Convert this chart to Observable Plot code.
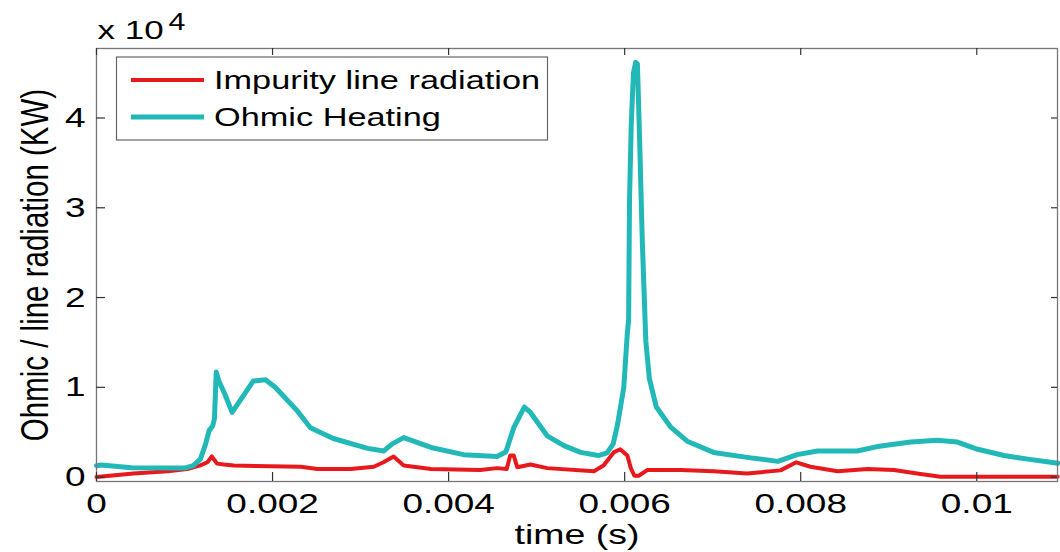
<!DOCTYPE html>
<html>
<head>
<meta charset="utf-8">
<script src="https://cdn.jsdelivr.net/npm/d3@7"></script>
<script src="https://cdn.jsdelivr.net/npm/@observablehq/plot@0.6"></script>
<style>
  body { margin: 0; background: #fff; }
  #chart { position: relative; width: 1060px; height: 552px; }
</style>
</head>
<body>
<div id="chart"></div>
<script>
// ---- Data (values in units of 10^4 KW, time in seconds) ----
const timeOhmic = [0, 0.00005, 0.0004, 0.001, 0.0011, 0.00118, 0.00124, 0.00128, 0.00132, 0.00134, 0.00136, 0.00139, 0.00146, 0.00154,
  0.00178, 0.00192, 0.00203, 0.00228, 0.00243, 0.00269, 0.00308, 0.00326, 0.00336, 0.00349, 0.0038, 0.00417, 0.00455, 0.00465,
  0.00474, 0.00486, 0.00493, 0.00512, 0.00531, 0.0055, 0.0057, 0.0058, 0.00587, 0.00592, 0.00599, 0.00603, 0.006045, 0.006055,
  0.006075, 0.0061, 0.006125, 0.006145, 0.00617, 0.0062, 0.00624, 0.00628, 0.00636, 0.00652, 0.00671, 0.00701, 0.00739, 0.00774,
  0.00796, 0.00819, 0.00864, 0.00887, 0.00925, 0.00955, 0.00978, 0.01001, 0.01031, 0.01058, 0.01088, 0.01092];
const ohmicHeating = [0.127, 0.135, 0.105, 0.10, 0.127, 0.2, 0.37, 0.52, 0.57, 0.65, 1.17, 1.07, 0.92, 0.72,
  1.07, 1.085, 1.0, 0.74, 0.55, 0.43, 0.32, 0.29, 0.37, 0.44, 0.33, 0.25, 0.23, 0.28,
  0.55, 0.78, 0.72, 0.46, 0.35, 0.275, 0.24, 0.27, 0.37, 0.59, 1.0, 1.6, 1.75, 3.08,
  3.94, 4.5, 4.62, 4.6, 3.75, 2.64, 1.52, 1.1, 0.78, 0.56, 0.40, 0.275, 0.22, 0.175,
  0.25, 0.29, 0.29, 0.34, 0.39, 0.41, 0.39, 0.31, 0.24, 0.2, 0.16, 0.155];

const timeImpurity = [0, 0.00042, 0.00081, 0.00103, 0.00118, 0.00126, 0.00131, 0.00137, 0.00145, 0.00156, 0.0018, 0.00232, 0.00251,
  0.00289, 0.00315, 0.00326, 0.003375, 0.00349, 0.0038, 0.00436, 0.00455, 0.00466, 0.0047, 0.00474, 0.00478, 0.00493, 0.00512,
  0.00565, 0.00576, 0.005875, 0.00595, 0.00603, 0.00607, 0.00611, 0.00616, 0.00626, 0.00664, 0.00701, 0.00739, 0.00777, 0.00795,
  0.00811, 0.00842, 0.00876, 0.00906, 0.00936, 0.00959, 0.01092];
const impurityRadiation = [0.0, 0.04, 0.065, 0.09, 0.13, 0.165, 0.23, 0.15, 0.14, 0.13, 0.125, 0.115, 0.09,
  0.09, 0.115, 0.165, 0.23, 0.13, 0.09, 0.08, 0.1, 0.09, 0.24, 0.24, 0.11, 0.14, 0.1,
  0.065, 0.13, 0.275, 0.31, 0.24, 0.1, 0.015, 0.015, 0.08, 0.08, 0.065, 0.04, 0.075, 0.165,
  0.115, 0.065, 0.09, 0.08, 0.035, 0.005, 0.005];

const seriesNames = ["Impurity line radiation", "Ohmic Heating"];
const seriesColors = ["#e8191c", "#22b8b8"];
const xTicks = [0, 0.002, 0.004, 0.006, 0.008, 0.01];
const xTickLabels = ["0", "0.002", "0.004", "0.006", "0.008", "0.01"];
const yTicks = [0, 1, 2, 3, 4];
const yTickLabels = ["0", "1", "2", "3", "4"];
const yLabel = "Ohmic / line radiation (KW)";
const xLabel = "time (s)";
const exponentBase = "x 10";
const exponentPower = "4";

// ---- Build rows ----
const ohmicRows = timeOhmic.map((t, i) => ({t, v: ohmicHeating[i]}));
const impurityRows = timeImpurity.map((t, i) => ({t, v: impurityRadiation[i]}));

const FONT = "'Liberation Sans', Arial, Helvetica, sans-serif";

const plot = Plot.plot({
  width: 1060,
  height: 552,
  marginLeft: 96,
  marginRight: 3,
  marginTop: 48,
  marginBottom: 71,
  style: {fontFamily: FONT, fontSize: "28px", background: "white", color: "#000", overflow: "visible"},
  x: {domain: [0, 0.010917], label: null},
  y: {domain: [-0.049, 4.774], label: null},
  marks: [
    Plot.line(impurityRows, {x: "t", y: "v", stroke: seriesColors[0], strokeWidth: 4, strokeLinejoin: "round"}),
    Plot.line(ohmicRows, {x: "t", y: "v", stroke: seriesColors[1], strokeWidth: 5, strokeLinejoin: "round"}),
    Plot.frame({stroke: "#777", strokeWidth: 1.3}),
    // inward ticks on all four sides
    Plot.tickX(xTicks, {x: d => d, insetTop: 424, stroke: "#333", strokeWidth: 1.2}),
    Plot.tickX(xTicks, {x: d => d, insetBottom: 426, stroke: "#333", strokeWidth: 1.2}),
    Plot.tickY(yTicks, {y: d => d, insetRight: 952, stroke: "#333", strokeWidth: 1.2}),
    Plot.tickY(yTicks, {y: d => d, insetLeft: 955, stroke: "#333", strokeWidth: 1.2}),
    Plot.axisX(xTicks, {tickSize: 0, tickPadding: 12, fontSize: 28, label: null,
      tickFormat: d => xTickLabels[xTicks.indexOf(d)]}),
    Plot.axisY(yTicks, {tickSize: 0, tickPadding: 11, fontSize: 28, label: null,
      tickFormat: d => yTickLabels[yTicks.indexOf(d)]}),
    Plot.text([yLabel], {frameAnchor: "left", dx: -60.5, rotate: -90, fontSize: 29.5, lineAnchor: "middle", textAnchor: "middle"}),
    Plot.text([xLabel], {frameAnchor: "bottom", dy: 62, fontSize: 28.4, lineAnchor: "bottom", textAnchor: "middle"}),
    Plot.text([exponentBase], {frameAnchor: "top-left", dx: 1, dy: -10, fontSize: 26.5, lineAnchor: "bottom", textAnchor: "start"}),
    Plot.text([exponentPower], {frameAnchor: "top-left", dx: 72, dy: -19, fontSize: 23, lineAnchor: "bottom", textAnchor: "start"})
  ]
});

// ---- Legend (inside the axes box, upper left) ----
const svg = d3.select(plot);
const lg = svg.append("g").attr("class", "legend").attr("text-anchor", "start");
lg.append("rect").attr("x", 116.5).attr("y", 57).attr("width", 431).attr("height", 83)
  .attr("fill", "white").attr("stroke", "#666").attr("stroke-width", 1.2);
seriesNames.forEach((name, i) => {
  const ly = 80 + i * 37;
  lg.append("line").attr("x1", 131).attr("x2", 204).attr("y1", ly).attr("y2", ly)
    .attr("stroke", seriesColors[i]).attr("stroke-width", i === 0 ? 4 : 5);
  lg.append("text").attr("x", 214).attr("y", ly + 9.5).attr("text-anchor", "start")
    .attr("font-family", FONT).attr("font-size", 26).attr("fill", "#000").text(name);
});

// ---- Horizontal stretch of glyphs (reference image is widened) ----
const S = 1.32;
plot.querySelectorAll("text").forEach(t => {
  const tr = t.getAttribute("transform");
  if (tr && /translate\(/.test(tr)) {
    t.setAttribute("transform", tr.replace(/translate\([^)]*\)/, m => `${m} scale(${S},1)`));
  } else {
    const x = +(t.getAttribute("x") || 0), y = +(t.getAttribute("y") || 0);
    t.setAttribute("transform", `translate(${x},${y}) scale(${S},1) translate(${-x},${-y})`);
  }
});

document.getElementById("chart").appendChild(plot);
</script>
</body>
</html>
